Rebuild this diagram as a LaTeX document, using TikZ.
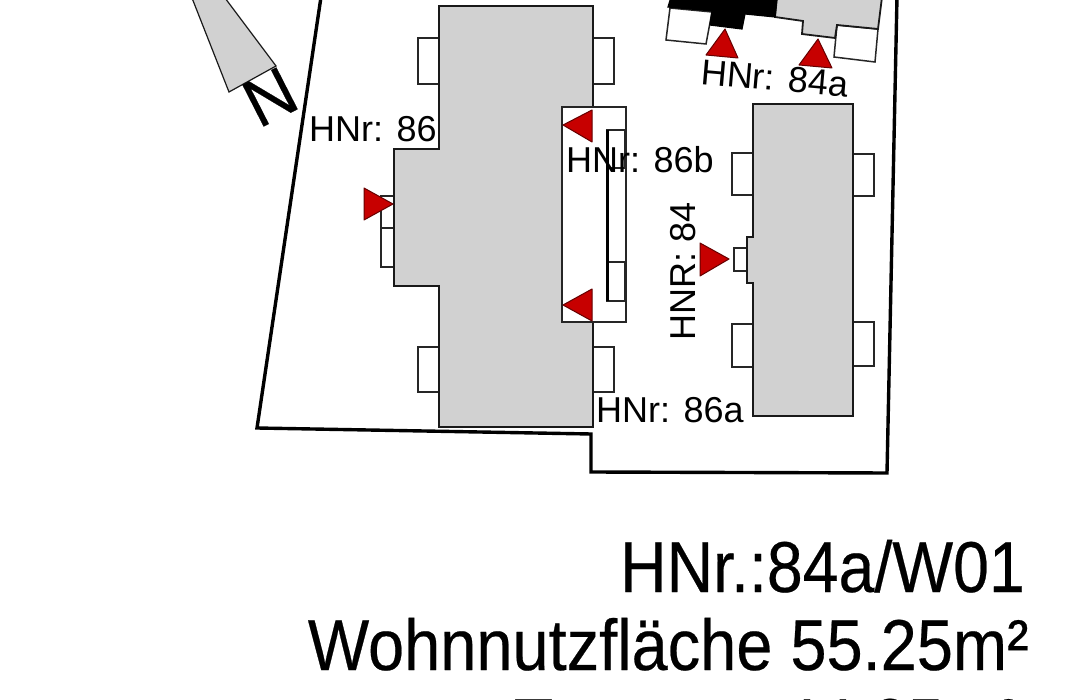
\documentclass[tikz,border=0pt]{standalone}
\usepackage{fontspec}
\setmainfont{Liberation Sans}
\newfontfamily\dickfont[FakeBold=0.35]{Liberation Sans}
\usetikzlibrary{positioning}

\tikzset{
	haus/.style={draw=black!90, fill=black!18, line width=1.8pt, line join=miter},
	balkon/.style={draw=black!85, fill=white, line width=1.5pt},
	eingang/.style={draw=red!40!black, fill=red!78!black, line width=1pt, line join=round},
	grenze/.style={line width=3.4pt, line join=miter},
	hnr/.style={font=\fontsize{36}{36}\selectfont, inner sep=0pt, anchor=base west},
	titel/.style={font=\dickfont\fontsize{72}{72}\selectfont, inner sep=0pt, anchor=base east, xscale=0.895}
}

\begin{document}
\begin{tikzpicture}[x=1pt, y=-1pt]
	\useasboundingbox (0,0) rectangle (1080,700);
	\fill [white] (0,0) rectangle (1080,700);

	% Grundstuecksgrenze
	\draw [grenze] (321,-3) -- (257,428) -- (591,434) -- (591,472) -- (887,473) -- (897,-3);

	% Nordpfeil
	\draw [haus, line width=1.2pt] (192,-2) -- (225,-2) -- (276,66) -- (229,92) -- cycle;
	\node (nord) [font=\dickfont\fontsize{68}{68}\selectfont, rotate=27, inner sep=0pt] at (270,97) {N};

	% Haus 86
	\draw [balkon] (418,38) rectangle (439,84);
	\draw [balkon] (593,38) rectangle (614,84);
	\draw [balkon] (418,347) rectangle (439,392);
	\draw [balkon] (593,347) rectangle (614,392);
	\draw [balkon] (381,196) rectangle (394,228);
	\draw [balkon] (381,228) rectangle (394,267);
	\draw [haus] (439,6) -- (593,6) -- (593,427) -- (439,427) -- (439,286) -- (394,286) -- (394,149) -- (439,149) -- cycle;

	% Haus 86b
	\draw [balkon] (562,107) rectangle (626,322);
	\draw [balkon] (607,130) rectangle (625,168);
	\draw [balkon] (607,262) rectangle (625,301);
	\draw [line width=3pt] (607,130) -- (607,301);

	% Haus 84
	\draw [balkon] (732,153) rectangle (753,195);
	\draw [balkon] (853,154) rectangle (874,196);
	\draw [balkon] (732,324) rectangle (753,367);
	\draw [balkon] (853,322) rectangle (874,366);
	\draw [balkon] (734,248) rectangle (747,271);
	\draw [haus] (753,104) -- (853,104) -- (853,416) -- (753,416) -- (753,283) -- (747,283) -- (747,237) -- (753,237) -- cycle;

	% Haus 84a
	\draw [balkon] (670,8) -- (712,12) -- (706,44) -- (666,40) -- cycle;
	\draw [balkon] (837,25) -- (878,29) -- (875,62) -- (834,57) -- cycle;
	\draw [haus] (777,-3) -- (775,17) -- (803,21) -- (802,34) -- (835,38) -- (837,25) -- (878,29) -- (882,-3) -- cycle;
	\draw [fill=black, line width=1.2pt] (671,-3) -- (668,7) -- (712,11) -- (710,25) -- (742,29) -- (745,14) -- (775,17) -- (777,-3) -- cycle;

	% Eingaenge
	\draw [eingang] (563,125) -- (592,110) -- (592,142) -- cycle;
	\draw [eingang] (563,305) -- (592,289) -- (592,321) -- cycle;
	\draw [eingang] (393,204) -- (364,188) -- (364,220) -- cycle;
	\draw [eingang] (729,259) -- (700,243) -- (700,276) -- cycle;
	\draw [eingang] (725,29) -- (706,55) -- (738,58) -- cycle;
	\draw [eingang] (818,39) -- (799,65) -- (832,68) -- cycle;

	% Beschriftung
	\node (hnr86) [hnr] at (309,142) {HNr: 86};
	\node (hnr86b) [hnr] at (566,173) {HNr: 86b};
	\node (hnr86a) [hnr] at (596,423) {HNr: 86a};
	\node (hnr84a) [hnr, rotate=-5] at (700,84) {HNr: 84a};
	\node (hnr84) [hnr, rotate=90] at (695,341) {HNR: 84};

	\node (wohnung) [titel] at (1025,592) {HNr.:84a/W01};
	\node (flaeche) [titel, xscale=1.008] at (1029,670) {Wohnnutzfläche 55.25m²};
	\node (terrasse) [titel] at (1019,749) {Terrasse\hspace*{4pt} 44.25m²};
\end{tikzpicture}
\end{document}
